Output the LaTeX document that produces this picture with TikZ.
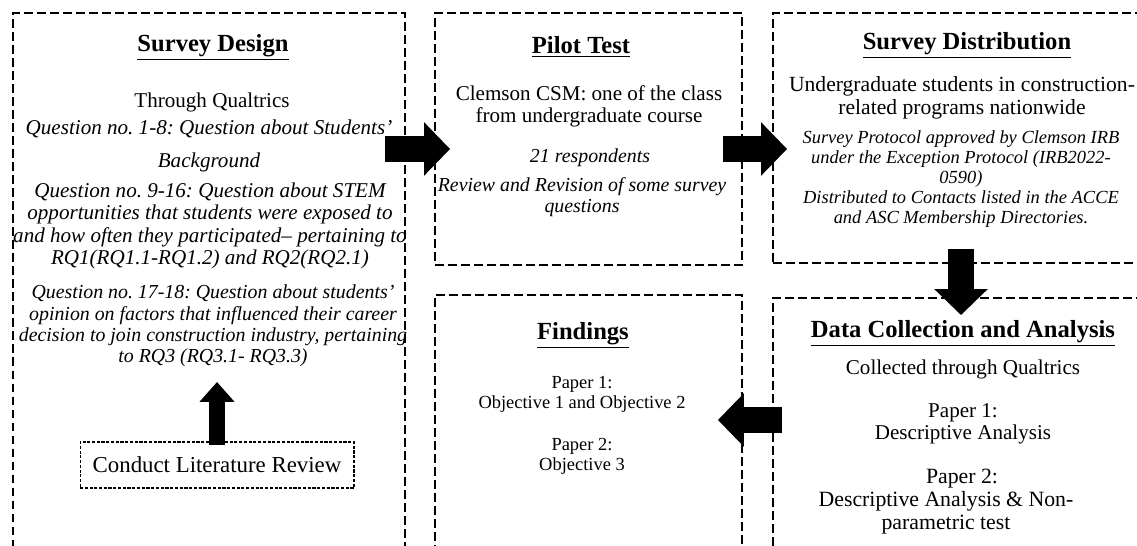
\documentclass[tikz,border=0pt]{standalone}
\usepackage{fontspec}
\setmainfont{Liberation Serif}
\usetikzlibrary{arrows.meta}
\frenchspacing

\begin{document}
\begin{tikzpicture}[x=0.02cm, y=-0.02cm,
  panel/.style={draw, line width=1.1pt, dash pattern=on 5pt off 2.4pt, inner sep=0pt},
  litbox/.style={draw, line width=0.6pt, dash pattern=on 1.8pt off 0.9pt, inner sep=0pt},
  heading/.style={font=\fontsize{14}{16}\selectfont\bfseries, inner sep=0pt},
  body/.style={font=\fontsize{12}{12.6}\selectfont, align=center, inner sep=0pt},
  itbody/.style={font=\fontsize{11.3}{12.2}\selectfont\itshape, align=center, inner sep=0pt},
  blockarrow/.style={line width=0.52cm, -{Triangle[length=0.52cm,width=1.04cm]}},
  smallarrow/.style={line width=0.32cm, -{Triangle[length=0.4cm,width=0.68cm]}}]

\path[use as bounding box, fill=white] (0,0) rectangle (1137,546);
\clip (0,0) rectangle (1137,546);

% panels
\node[panel, minimum width=7.84cm, minimum height=11.24cm] (design) at (209,294) {};
\node[panel, minimum width=6.14cm, minimum height=5.04cm] (pilot) at (588.5,139) {};
\node[panel, minimum width=7.84cm, minimum height=5.0cm] (dist) at (969,138) {};
\node[panel, minimum width=6.14cm, minimum height=5.6cm] (findings) at (588.5,435) {};
\node[panel, minimum width=7.84cm, minimum height=5.54cm] (data) at (969,436.5) {};
\node[litbox, minimum width=5.48cm, minimum height=0.92cm, font=\fontsize{13}{15}\selectfont] (lit) at (217,465) {Conduct Literature Review};

% survey design
\node[heading] (design-title) at (213,47) {\underline{Survey Design}};
\node[body] (design-sub) at (212,102) {Through Qualtrics};
\node[itbody, font=\fontsize{12}{12.6}\selectfont\itshape] (design-q1) at (209,146) {Question no. 1-8: Question about Students'\\[0.2cm] Background};
\node[itbody, font=\fontsize{12}{12.6}\selectfont\itshape] (design-q2) at (210,226) {Question no. 9-16: Question about STEM\\ opportunities that students were exposed to\\ and how often they participated-- pertaining to\\ RQ1(RQ1.1-RQ1.2) and RQ2(RQ2.1)};
\node[itbody] (design-q3) at (213,326) {Question no. 17-18: Question about students'\\ opinion on factors that influenced their career\\ decision to join construction industry, pertaining\\ to RQ3 (RQ3.1- RQ3.3)};
\coordinate (litend) at (217,382);

% pilot test
\node[heading] (pilot-title) at (581,47) {\underline{Pilot Test}};
\node[body] (pilot-p1) at (589,106) {Clemson CSM: one of the class\\ from undergraduate course};
\node[itbody] (pilot-p2) at (590,158) {21 respondents};
\node[itbody] (pilot-p3) at (582,197) {Review and Revision of some survey\\ questions};

% survey distribution
\node[heading] (dist-title) at (967,45) {\underline{Survey Distribution}};
\node[body, font=\fontsize{12.3}{12.8}\selectfont] (dist-p1) at (962,98) {Undergraduate students in construction-\\ related programs nationwide};
\node[itbody, font=\fontsize{10.5}{11.3}\selectfont\itshape] (dist-p2) at (961,179) {Survey Protocol approved by Clemson IRB\\ under the Exception Protocol (IRB2022-\\ 0590)\\ Distributed to Contacts listed in the ACCE\\ and ASC Membership Directories.};

% findings
\node[heading] (findings-title) at (583,335) {\underline{Findings}};
\node[body, font=\fontsize{10.5}{11.4}\selectfont] (findings-p1) at (582,394) {Paper 1:\\ Objective 1 and Objective 2};
\node[body, font=\fontsize{10.5}{11.4}\selectfont] (findings-p2) at (582,456) {Paper 2:\\ Objective 3};

% data collection
\node[heading] (data-title) at (963,333) {\underline{Data Collection and Analysis}};
\node[body] (data-p1) at (963,369) {Collected through Qualtrics};
\node[body] (data-p2) at (963,424) {Paper 1:\\ Descriptive Analysis};
\node[body, font=\fontsize{12.4}{12.9}\selectfont] (data-p3) at (962,479) {Paper 2:};
\node[body, font=\fontsize{12.4}{12.9}\selectfont] (data-p4) at (946,513) {Descriptive Analysis \& Non-\\ parametric test};

% arrows
\draw[blockarrow] ([shift={(-21,-145)}]design.east) -- ([shift={(16,10)}]pilot.west);
\draw[blockarrow] ([shift={(-20,10)}]pilot.east) -- ([shift={(15,11)}]dist.west);
\draw[blockarrow] ([shift={(-8,-15)}]dist.south) -- ([shift={(-8,18)}]data.north);
\draw[blockarrow] ([shift={(10,-16.5)}]data.west) -- ([shift={(-25,-15)}]findings.east);
\draw[smallarrow] ([shift={(0,4)}]lit.north) -- (litend);
\end{tikzpicture}
\end{document}
